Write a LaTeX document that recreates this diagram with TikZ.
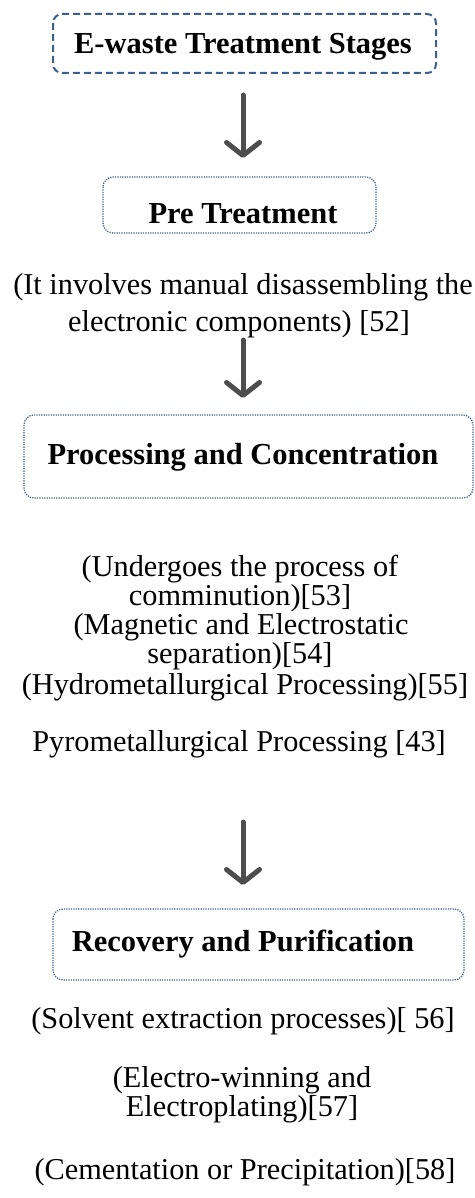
\documentclass[tikz,border=0pt]{standalone}
\usepackage{fontspec}
\setmainfont{Liberation Serif}
\usetikzlibrary{arrows.meta}
\definecolor{boxblue}{HTML}{3D5F8C}
\definecolor{arrowgray}{HTML}{4D4D4D}
\tikzset{
  x=1pt, y=-1pt,
  txt/.style={anchor=base, inner sep=0pt, font=\fontsize{30.3}{34}\selectfont},
  ttl/.style={anchor=base, inner sep=0pt, font=\fontsize{30.5}{34}\selectfont\bfseries},
  dashbox/.style={draw=boxblue, line width=2pt, dash pattern=on 7pt off 4pt, rounded corners=9pt},
  dotbox/.style={draw=boxblue, line width=1.3pt, dash pattern=on 1.2pt off 1.2pt, rounded corners=10pt},
  flow/.style={draw=arrowgray, line width=5pt, line cap=round,
    -{Straight Barb[length=13pt, width=33pt, line width=5pt, round]}},
}
\begin{document}
\begin{tikzpicture}
\useasboundingbox (0,0) rectangle (474,1198);
% boxes
\draw[dashbox] (53,14) rectangle (436,73);
\node[ttl] (t1) at (243,54) {E-waste Treatment Stages};

\draw[dotbox] (103,177) rectangle (376,233);
\node[ttl] (t2) at (243,224) {Pre Treatment};

\node[txt] (l1) at (243,294) {(It involves manual disassembling the};
\node[txt] (l2) at (239,331) {electronic components) [52]};

\draw[dotbox] (24,415) rectangle (473,498);
\node[ttl] (t3) at (243,464) {Processing and Concentration};

\node[txt] (p1) at (240,576) {(Undergoes the process of};
\node[txt] (p2) at (240,605) {comminution)[53]};
\node[txt] (p3) at (241,634) {(Magnetic and Electrostatic};
\node[txt] (p4) at (240,663) {separation)[54]};
\node[txt] (p5) at (245,694) {(Hydrometallurgical Processing)[55]};
\node[txt] (p6) at (239,751) {Pyrometallurgical Processing [43]};

\draw[dotbox] (53,909) rectangle (464,980);
\node[ttl] (t4) at (243,951) {Recovery and Purification};

\node[txt] (r1) at (243,1028) {(Solvent extraction processes)[ 56]};
\node[txt] (r2) at (242,1087) {(Electro-winning and};
\node[txt] (r3) at (242,1116) {Electroplating)[57]};
\node[txt] (r4) at (245,1179) {(Cementation or Precipitation)[58]};

% arrows
\coordinate (a1s) at (243,95);
\coordinate (a1e) at (243,158);
\draw[flow] (a1s) -- (a1e);
\coordinate (a2s) at (243,340);
\coordinate (a2e) at (243,398);
\draw[flow] (a2s) -- (a2e);
\coordinate (a3s) at (243,822);
\coordinate (a3e) at (243,885);
\draw[flow] (a3s) -- (a3e);
\end{tikzpicture}
\end{document}
